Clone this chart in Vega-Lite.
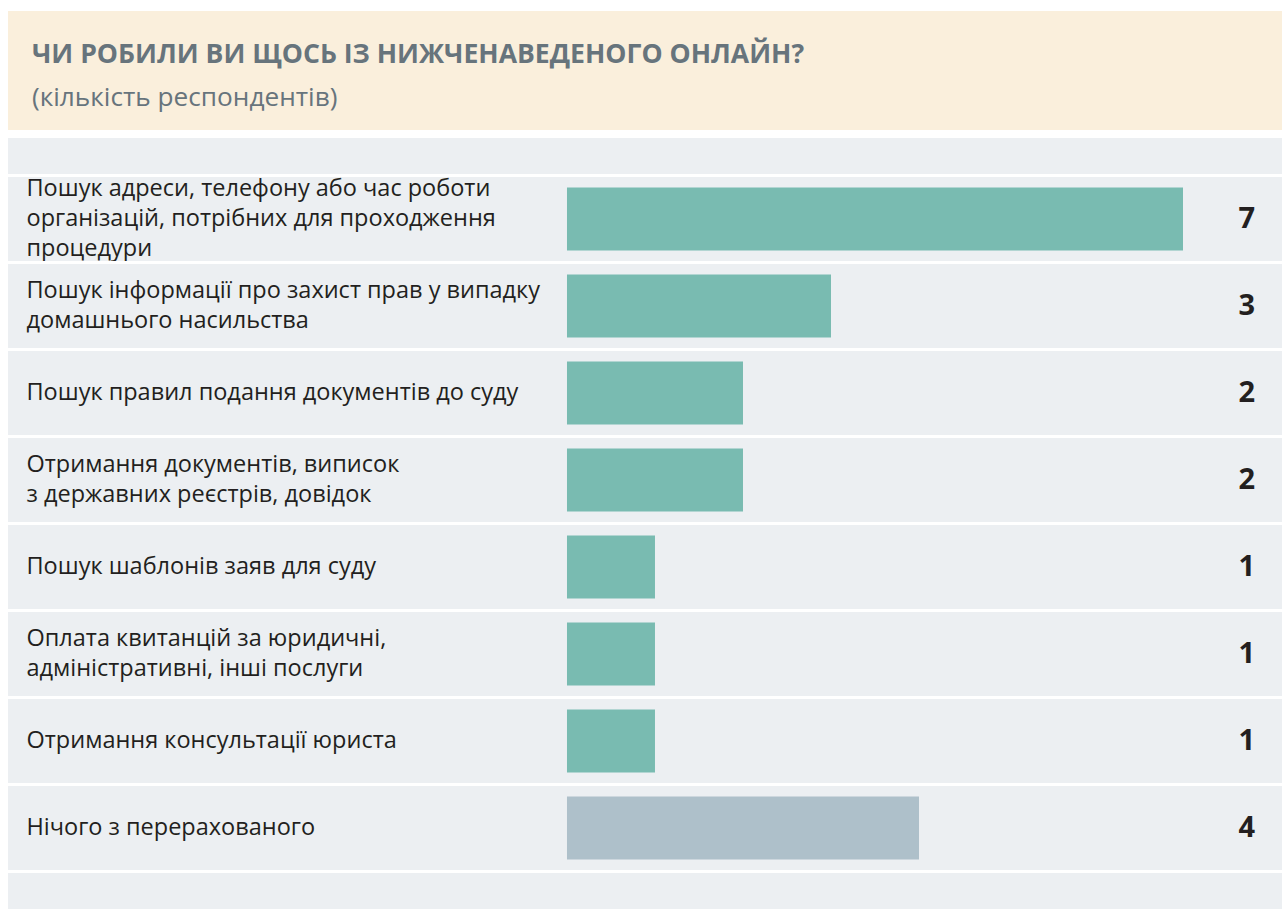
{
  "$schema": "https://vega.github.io/schema/vega-lite/v6.json",
  "padding": {"left": 6, "top": 11, "right": 0, "bottom": 0},
  "background": "white",
  "spacing": 8,
  "config": {"view": {"stroke": null}, "font": "Open Sans"},
  "vconcat": [
    {
      "width": 1274,
      "height": 119,
      "view": {"fill": "#FAEFDC", "stroke": null},
      "title": {
        "text": "ЧИ РОБИЛИ ВИ ЩОСЬ ІЗ НИЖЧЕНАВЕДЕНОГО ОНЛАЙН?",
        "subtitle": "(кількість респондентів)",
        "anchor": "start",
        "frame": "group",
        "orient": "top",
        "offset": -100,
        "dx": 24,
        "font": "Open Sans",
        "fontSize": 26.6,
        "fontWeight": "bold",
        "color": "#67747C",
        "subtitleFont": "Open Sans",
        "subtitleFontSize": 26.2,
        "subtitleColor": "#67747C",
        "subtitlePadding": 16
      },
      "data": {"values": [{"v": 0}]},
      "mark": {"type": "point", "opacity": 0},
      "encoding": {}
    },
    {
      "width": 1274,
      "height": 771,
      "view": {"fill": "#ECEFF2", "stroke": null},
      "data": {
        "values": [
          {"activity": "Пошук адреси, телефону або час роботи\nорганізацій, потрібних для проходження\nпроцедури", "count": 7, "group": "yes", "last": false},
          {"activity": "Пошук інформації про захист прав у випадку\nдомашнього насильства", "count": 3, "group": "yes", "last": false},
          {"activity": "Пошук правил подання документів до суду", "count": 2, "group": "yes", "last": false},
          {"activity": "Отримання документів, виписок\nз державних реєстрів, довідок", "count": 2, "group": "yes", "last": false},
          {"activity": "Пошук шаблонів заяв для суду", "count": 1, "group": "yes", "last": false},
          {"activity": "Оплата квитанцій за юридичні,\nадміністративні, інші послуги", "count": 1, "group": "yes", "last": false},
          {"activity": "Отримання консультації юриста", "count": 1, "group": "yes", "last": false},
          {"activity": "Нічого з перерахованого", "count": 4, "group": "none", "last": true}
        ]
      },
      "encoding": {
        "y": {
          "field": "activity",
          "type": "nominal",
          "sort": null,
          "scale": {"paddingInner": 0, "paddingOuter": 0.431},
          "axis": {
            "title": null,
            "ticks": false,
            "domain": false,
            "grid": false,
            "labelAlign": "left",
            "labelBaseline": "middle",
            "labelPadding": -18,
            "labelFont": "Open Sans",
            "labelFontSize": 23.5,
            "labelColor": "#231F20",
            "labelLimit": 0,
            "labelLineHeight": 30,
            "labelOffset": {
              "condition": [
                {"test": "length(split(datum.value, '\\n')) == 3", "value": -30},
                {"test": "length(split(datum.value, '\\n')) == 2", "value": -15}
              ],
              "value": 0
            },
            "labelExpr": "split(datum.label, '\\n')"
          }
        }
      },
      "layer": [
        {
          "mark": {"type": "rule", "color": "white", "strokeWidth": 3},
          "encoding": {
            "y": {"field": "activity", "type": "nominal", "sort": null, "bandPosition": 0}
          }
        },
        {
          "transform": [{"filter": "datum.last"}],
          "mark": {"type": "rule", "color": "white", "strokeWidth": 3},
          "encoding": {
            "y": {"field": "activity", "type": "nominal", "sort": null, "bandPosition": 1}
          }
        },
        {
          "mark": {"type": "bar", "height": {"band": 0.724}},
          "encoding": {
            "x": {
              "field": "count",
              "type": "quantitative",
              "scale": {"domain": [-6.352, 8.125], "nice": false, "zero": false},
              "axis": null
            },
            "color": {
              "field": "group",
              "type": "nominal",
              "scale": {"domain": ["yes", "none"], "range": ["#79BBB1", "#AEC0CA"]},
              "legend": null
            }
          }
        },
        {
          "mark": {"type": "text", "align": "right", "baseline": "middle", "font": "Open Sans", "fontWeight": "bold", "fontSize": 29, "color": "#231F20"},
          "encoding": {
            "x": {"datum": 7.818, "type": "quantitative"},
            "text": {"field": "count", "type": "quantitative"}
          }
        }
      ]
    }
  ]
}
